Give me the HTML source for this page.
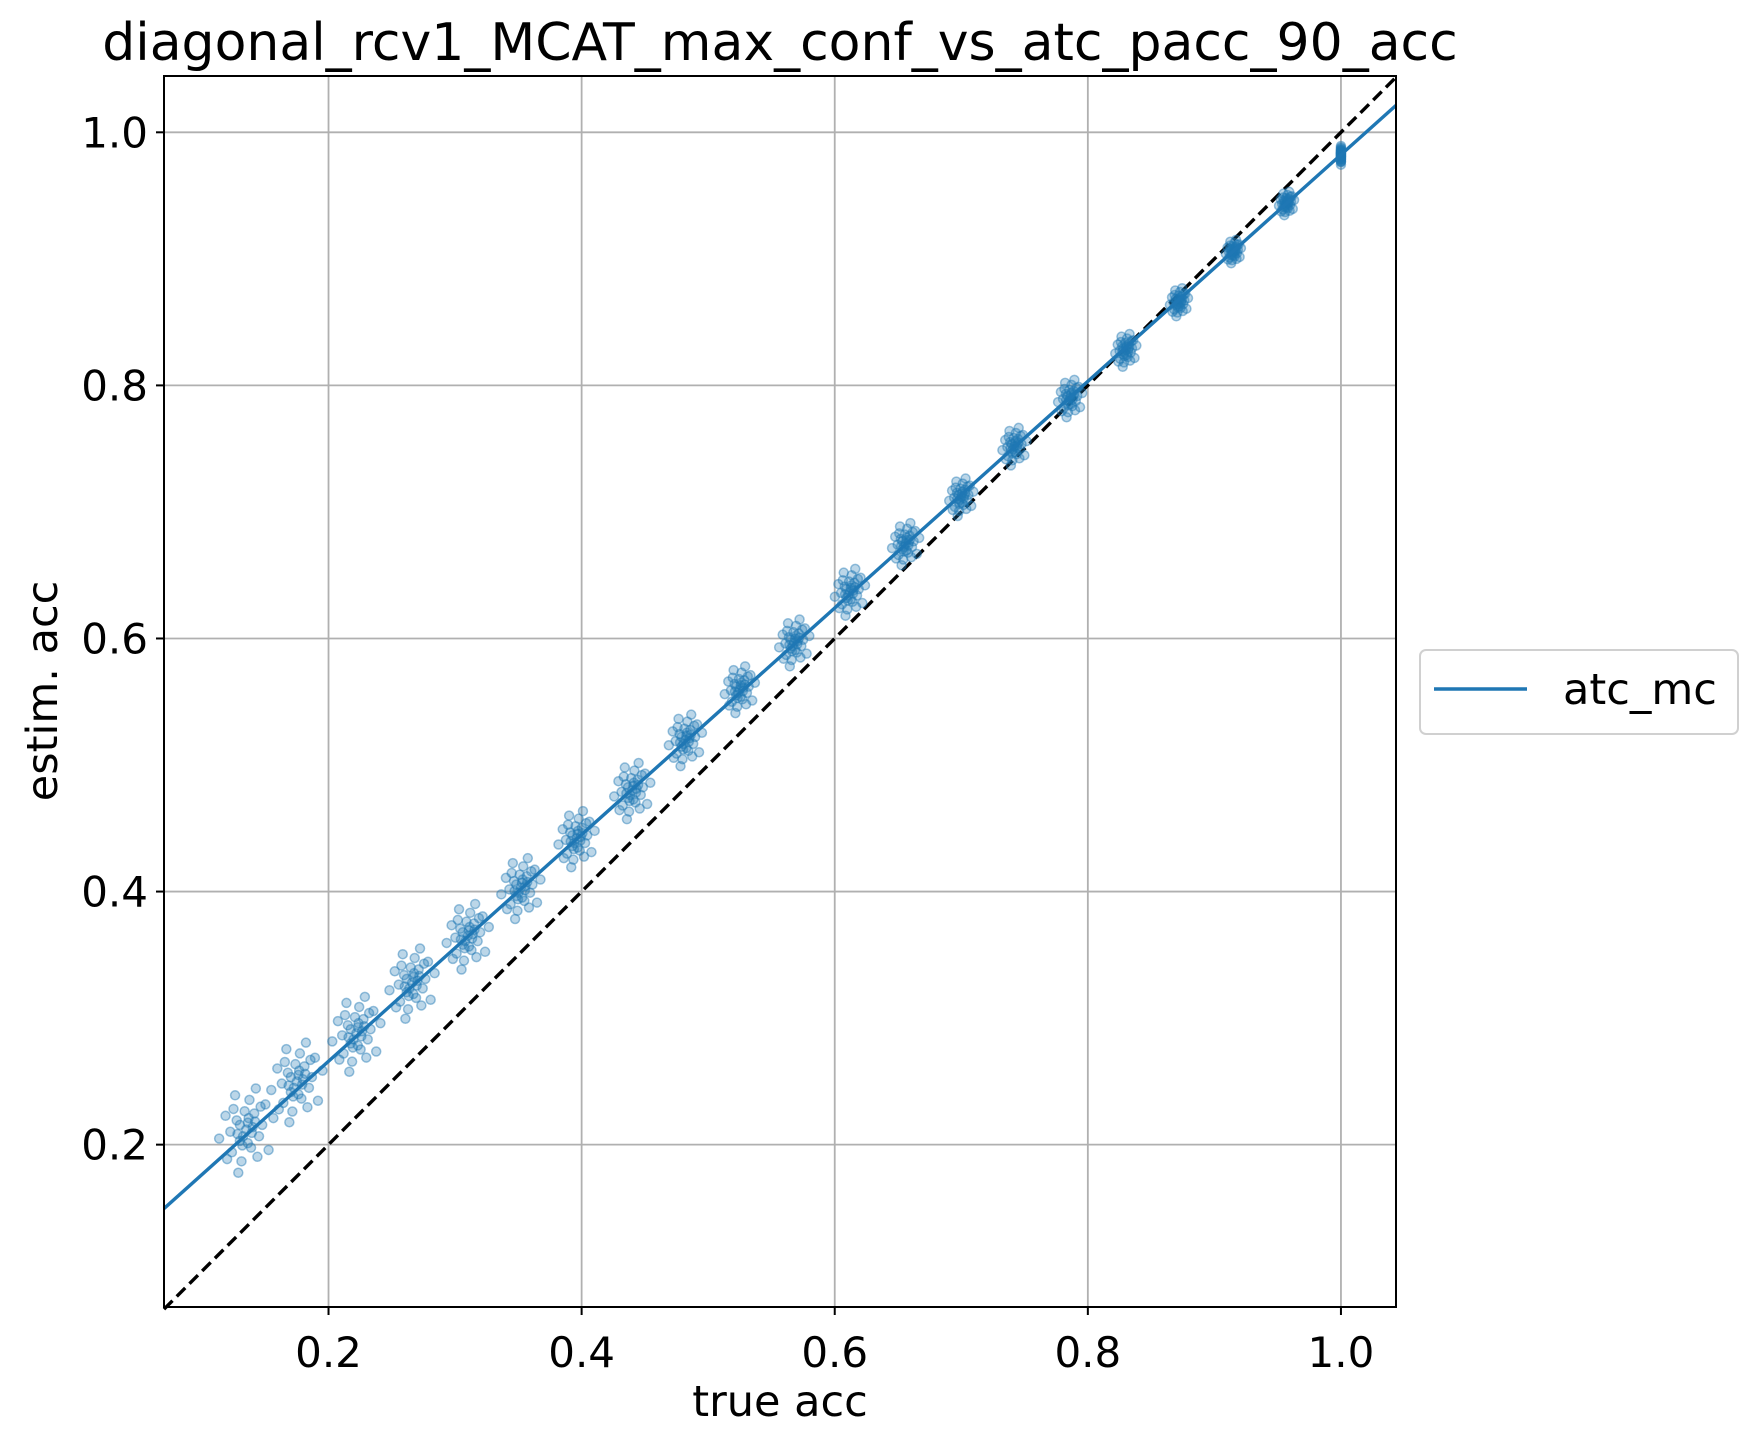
<!DOCTYPE html>
<html><head><meta charset="utf-8"><style>
html,body{margin:0;padding:0;background:#fff;}
svg{display:block;font-family:"DejaVu Sans","Liberation Sans",sans-serif;}
</style></head><body>
<svg id="chart" width="1757" height="1446" viewBox="0 0 1757 1446" xmlns="http://www.w3.org/2000/svg">
<rect width="1757" height="1446" fill="#fff"/>
<text x="780" y="60" font-size="52" text-anchor="middle">diagonal_rcv1_MCAT_max_conf_vs_atc_pacc_90_acc</text>
<g id="grid"></g>
<g id="diag"></g>
<g id="pts"></g>
<g id="fit"></g>
<rect x="164" y="76" width="1232" height="1231" fill="none" stroke="#000" stroke-width="2"/>
<g id="ticks"></g>
<text x="780" y="1416" font-size="43" text-anchor="middle">true acc</text>
<text transform="translate(57,691) rotate(-90)" font-size="43" text-anchor="middle">estim. acc</text>
<g>
<rect x="1420" y="650" width="318" height="84" rx="6" fill="#fff" stroke="#d0d0d0" stroke-width="2"/>
<line x1="1434" y1="689" x2="1527" y2="689" stroke="#1f77b4" stroke-width="3.4"/>
<text x="1563" y="704" font-size="43">atc_mc</text>
</g>
</svg>
<script>
const xTicks=[0.2,0.4,0.6,0.8,1.0];
const yTicks=[0.2,0.4,0.6,0.8,1.0];
const tickLabels=["0.2","0.4","0.6","0.8","1.0"];
const clusterX=[0.135,0.175,0.222,0.266,0.31,0.352,0.396,0.44,0.482,0.525,0.568,0.612,0.656,0.70,0.742,0.786,0.83,0.872,0.915,0.957,1.0];
const clusterY=[0.212,0.25,0.288,0.328,0.365,0.403,0.442,0.48,0.52,0.56,0.597,0.637,0.675,0.712,0.752,0.79,0.828,0.866,0.906,0.944,0.982];
const clusterSpread=[0.018,0.017,0.016,0.015,0.014,0.013,0.012,0.012,0.011,0.010,0.010,0.010,0.009,0.008,0.008,0.008,0.007,0.006,0.005,0.005,0.004];
const fitSlope=0.8955, fitIntercept=0.0868;
const xMin=0.07,xMax=1.0435,yMin=0.0717,yMax=1.0445;
const L=164,R=1396,T=76,B=1307;
const sx=v=>L+(v-xMin)/(xMax-xMin)*(R-L);
const sy=v=>B-(v-yMin)/(yMax-yMin)*(B-T);
const NS="http://www.w3.org/2000/svg";
function mk(tag,parent,attrs){const e=document.createElementNS(NS,tag);for(const k in attrs)e.setAttribute(k,attrs[k]);document.getElementById(parent).appendChild(e);return e;}
xTicks.forEach((v,i)=>{
 const g=mk('line','grid',{x1:sx(v),x2:sx(v),y1:T,y2:B,stroke:'#b0b0b0','stroke-width':1.8});
 
 
 const t=mk('line','ticks',{x1:sx(v),x2:sx(v),y1:B,y2:B+8,stroke:'#000','stroke-width':2});
 
 
 const l=mk('text','ticks',{x:sx(v),y:B+60,'font-size':42,'text-anchor':'middle'});
 l.textContent=tickLabels[i];
 
 
});
yTicks.forEach((v,i)=>{
 const g=mk('line','grid',{x1:L,x2:R,y1:sy(v),y2:sy(v),stroke:'#b0b0b0','stroke-width':1.8});
 
 
 const t=mk('line','ticks',{x1:L-8,x2:L,y1:sy(v),y2:sy(v),stroke:'#000','stroke-width':2});
 
 
 const l=mk('text','ticks',{x:L-16,y:sy(v)+15,'font-size':42,'text-anchor':'end'});
 l.textContent=tickLabels[i];
 
 
});
const d=mk('line','diag',{x1:sx(xMin),y1:sy(xMin),x2:sx(xMax),y2:sy(xMax),stroke:'#000','stroke-width':3.4,'stroke-dasharray':'12,6'});


const offs=[[0,0],[0.5,0.7],[-0.6,0.4],[0.3,-0.8],[-0.4,-0.5],[1,0.2],[-1,-0.1],[0.2,1.3],[-0.3,-1.4],[0.8,-0.3],[-0.8,0.9],[1.4,-0.9],[-1.3,0.6],[0.6,1.8],[-0.5,-1.9],[0.1,0.3],[-0.2,-0.3],[0.4,0.1],[-0.4,0.2],[1.7,0.5],[-1.7,-0.4],[0.9,1],[-0.9,-1],[0.1,-0.6],[-0.1,0.8],[0.7,-1.2],[-0.7,1.5],[1.2,1.1],[-1.2,-1.3],[0.35,-0.15],[0.15,0.5],[-0.25,-0.7],[0.55,0.35],[-0.55,-0.2]];
clusterX.forEach((cx,i)=>{
 offs.forEach(o=>{
  const w=cx>0.99?0:clusterSpread[i]*0.7;
  const c=mk('circle','pts',{cx:sx(cx+o[0]*w),cy:sy(clusterY[i]+o[1]*clusterSpread[i]),r:4.5,fill:'rgba(31,119,180,0.3)',stroke:'rgba(31,119,180,0.45)','stroke-width':1.5});
  
  
 });
});
const f=mk('line','fit',{x1:sx(xMin),y1:sy(fitIntercept+fitSlope*xMin),x2:sx(xMax),y2:sy(fitIntercept+fitSlope*xMax),stroke:'#1f77b4','stroke-width':3.4});


</script>
</body></html>
